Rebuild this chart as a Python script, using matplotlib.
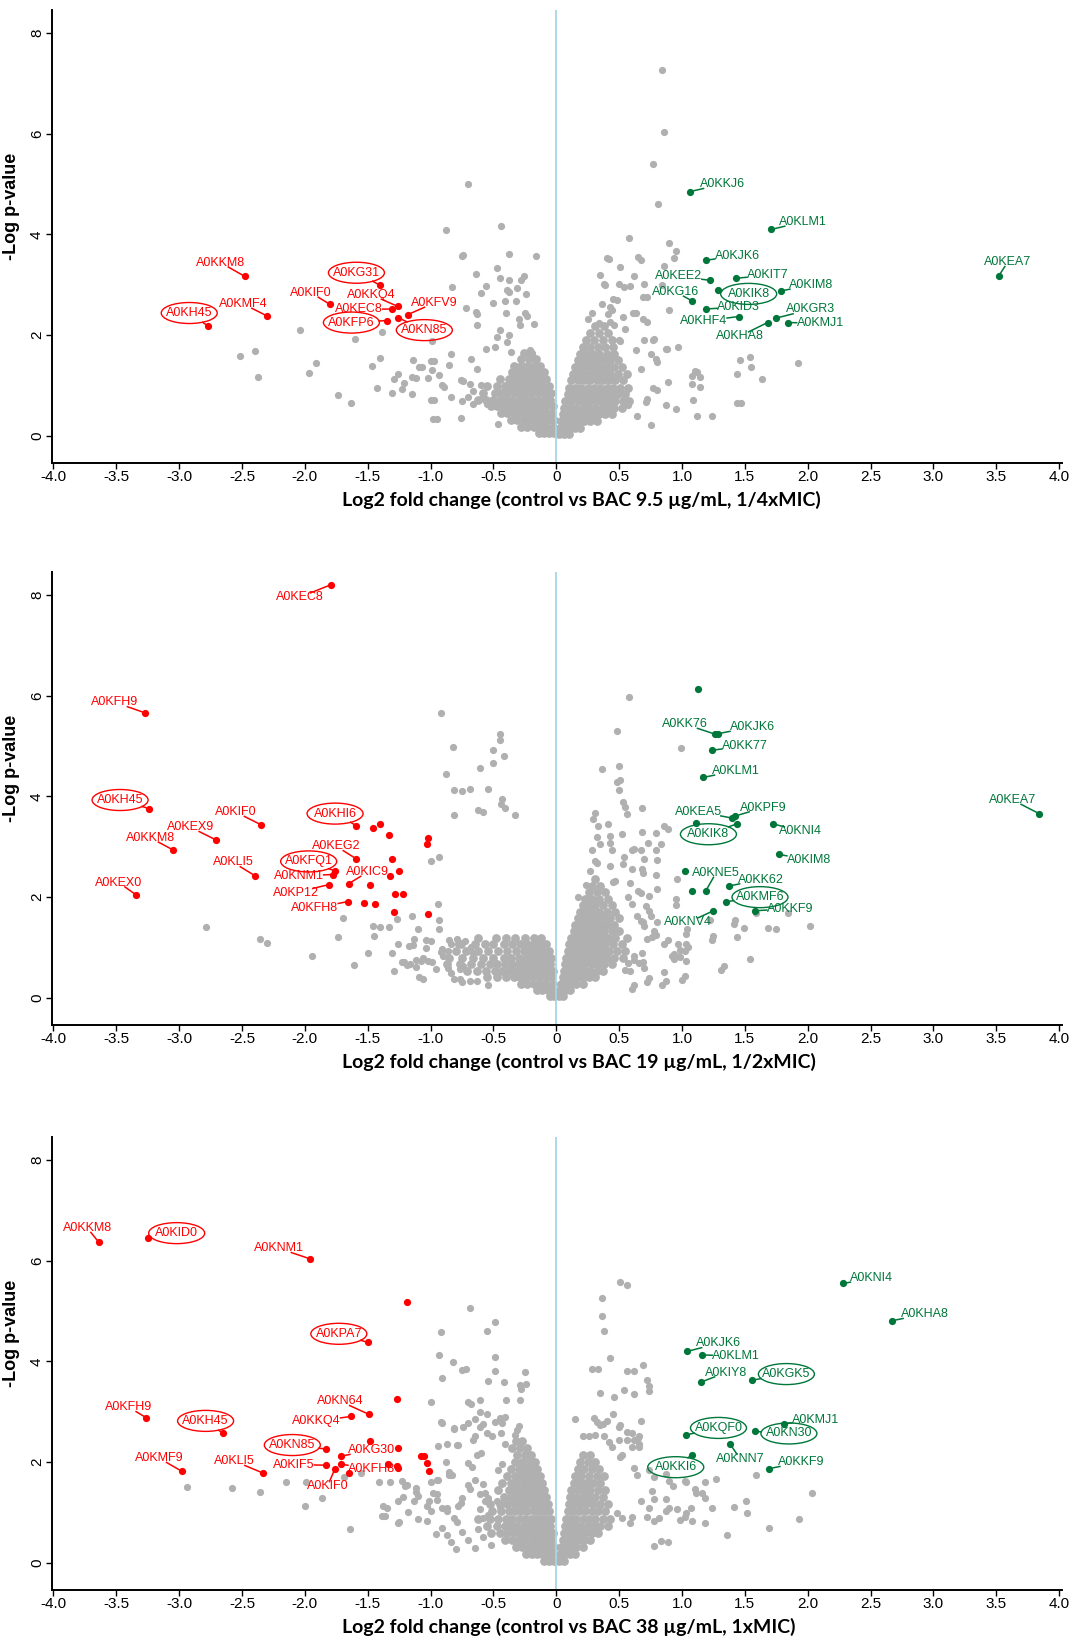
import numpy as np
import matplotlib
matplotlib.use("Agg")
import matplotlib.pyplot as plt
from matplotlib.patches import Ellipse

plt.rcParams["font.family"] = ["Liberation Sans", "DejaVu Sans"]

GRAY, RED, GREEN, ZERO = "#b0b0b0", "#ff0000", "#00773a", "#a6d6e6"
W, H = 1077, 1637

# ---------------- panel 1 : BAC 9.5 ug/mL ----------------
p1_title = "Log2 fold change (control vs BAC 9.5 \u00b5g/mL, 1/4xMIC)"
p1_gray = [
    (-2.52, 1.59), (-2.40, 1.68), (-2.37, 1.17), (-2.04, 2.11), (-1.97, 1.24), (-1.91, 1.44),
    (-1.74, 0.82), (-1.63, 0.65), (-1.60, 1.92), (-1.47, 1.39), (-1.43, 0.96), (-1.40, 1.55),
    (-1.39, 2.06), (-1.31, 0.85), (-1.29, 1.12), (-1.26, 1.22), (-1.23, 0.93), (-1.21, 1.05),
    (-1.15, 0.83), (-1.14, 1.50), (-1.09, 1.36), (-1.15, 1.17), (-1.12, 1.15), (-1.07, 1.37),
    (-1.02, 1.14), (-0.99, 1.89), (-1.00, 0.72), (-0.97, 0.72), (-0.98, 0.33), (-1.00, 1.48),
    (-0.97, 1.48), (-0.99, 1.31), (-0.93, 1.21), (-0.91, 1.00), (-0.89, 0.97), (-0.84, 0.77),
    (-0.84, 1.62), (-0.85, 1.40), (-0.83, 2.95), (-0.88, 4.09), (-0.70, 5.00), (-0.44, 4.17),
    (-0.75, 3.57), (-0.74, 3.59), (-0.38, 3.62), (-0.16, 3.58), (-0.47, 3.34), (-0.64, 3.22),
    (-0.45, 3.14), (-0.38, 3.10), (-0.26, 3.17), (-0.28, 3.09), (-0.56, 2.97), (-0.39, 2.89),
    (-0.38, 2.86), (-0.31, 2.94), (-0.60, 2.84), (-0.24, 2.81), (-0.50, 2.63), (-0.41, 2.68),
    (-0.32, 2.67), (-0.72, 2.53), (-0.64, 2.46), (-0.63, 2.43), (-0.40, 2.45), (-0.25, 2.44),
    (-0.23, 2.39), (-0.63, 2.20), (-0.45, 2.10), (-0.30, 2.33), (-0.29, 2.21), (-0.18, 2.23),
    (-0.47, 1.96), (-0.38, 2.00), (-0.56, 1.73), (-0.49, 1.76), (-0.39, 1.86), (-0.21, 1.70),
    (-0.19, 1.63), (-0.36, 1.67), (-0.68, 1.52), (-0.63, 1.33), (-0.76, 1.10), (-0.74, 1.08),
    (-0.75, 0.70), (-0.95, 0.33), (-0.76, 0.35), (-0.46, 0.24), (-0.69, 1.03), (-0.66, 0.90),
    (-0.60, 1.00), (-0.58, 0.80), (-0.55, 0.64), (-0.66, 0.64), (-0.70, 0.77),
    (0.84, 7.27), (0.86, 6.04), (0.77, 5.41), (0.81, 4.60), (0.58, 3.94), (0.90, 3.84),
    (0.95, 3.67), (0.94, 3.54), (0.40, 3.54), (0.42, 3.52), (0.65, 3.56), (0.67, 3.49),
    (0.51, 3.36), (0.86, 3.38), (0.35, 3.19), (0.62, 3.17), (0.38, 3.02), (0.39, 2.99),
    (0.50, 3.02), (0.54, 2.96), (0.59, 2.97), (0.70, 3.02), (0.69, 2.76), (0.72, 2.75),
    (0.84, 2.99), (0.45, 2.71), (0.48, 2.69), (0.61, 2.45), (0.63, 2.45), (0.43, 2.56),
    (0.34, 2.25), (0.43, 2.26), (0.46, 2.20), (0.55, 2.13), (0.69, 2.33), (0.72, 2.26),
    (0.50, 1.91), (0.51, 1.88), (0.70, 1.90), (0.77, 1.90), (0.87, 1.72), (0.63, 1.70),
    (0.75, 1.63), (0.79, 1.53), (0.80, 1.47), (0.67, 1.33), (0.89, 1.07), (0.77, 0.96),
    (0.80, 0.92), (0.72, 0.73), (0.71, 0.67), (0.87, 0.62), (0.95, 0.53), (0.56, 0.67),
    (0.57, 0.62), (0.64, 0.40), (0.75, 0.21), (1.08, 1.19), (1.12, 1.27), (1.14, 1.17),
    (1.08, 1.03), (1.14, 0.97), (1.09, 0.72), (1.12, 0.40), (1.24, 0.39), (1.46, 1.50),
    (1.54, 1.57), (1.55, 1.37), (1.64, 1.13), (1.44, 0.66), (1.47, 0.66), (1.92, 1.44),
    (1.44, 1.23), (1.10, 1.29), (0.97, 1.77), (0.88, 1.73), (0.90, 2.50), (0.78, 1.92),
    (0.36, 2.62), (0.28, 2.45), (0.25, 2.32), (0.44, 2.49), (0.41, 2.42), (0.53, 2.37),
]
p1_core_left = [
    (0.05, [-0.02, -0.06, -0.10, -0.14]),
    (0.18, [-0.03, -0.08, -0.13, -0.18, -0.23, -0.28]),
    (0.32, [-0.02, -0.07, -0.11, -0.16, -0.21, -0.26, -0.31, -0.36]),
    (0.45, [-0.04, -0.09, -0.14, -0.19, -0.24, -0.29, -0.34, -0.39, -0.44]),
    (0.59, [-0.03, -0.08, -0.12, -0.17, -0.22, -0.27, -0.32, -0.37, -0.42, -0.47, -0.52]),
    (0.72, [-0.05, -0.10, -0.15, -0.20, -0.25, -0.30, -0.35, -0.40, -0.45, -0.50, -0.56, -0.62]),
    (0.86, [-0.04, -0.09, -0.14, -0.19, -0.24, -0.29, -0.34, -0.39, -0.44, -0.49, -0.58]),
    (0.99, [-0.06, -0.11, -0.16, -0.21, -0.26, -0.31, -0.36, -0.41, -0.47, -0.55]),
    (1.12, [-0.08, -0.13, -0.18, -0.23, -0.28, -0.33, -0.38, -0.45]),
    (1.26, [-0.10, -0.15, -0.20, -0.25, -0.30, -0.35]),
    (1.39, [-0.13, -0.18, -0.23, -0.28, -0.34]),
    (1.52, [-0.16, -0.22, -0.28]),
    (1.65, [-0.20, -0.26]),
]
p1_core_right = [
    (0.03, [0.02, 0.06, 0.10]),
    (0.16, [0.03, 0.07, 0.11, 0.15, 0.19]),
    (0.30, [0.04, 0.08, 0.12, 0.17, 0.22, 0.27, 0.32]),
    (0.43, [0.05, 0.09, 0.14, 0.19, 0.24, 0.29, 0.34, 0.39, 0.44]),
    (0.56, [0.06, 0.11, 0.16, 0.21, 0.26, 0.31, 0.36, 0.41, 0.46, 0.52]),
    (0.70, [0.07, 0.12, 0.17, 0.22, 0.27, 0.32, 0.37, 0.42, 0.47, 0.53, 0.58]),
    (0.83, [0.09, 0.14, 0.19, 0.24, 0.29, 0.34, 0.39, 0.44, 0.49, 0.55]),
    (0.96, [0.10, 0.15, 0.20, 0.25, 0.30, 0.35, 0.40, 0.45, 0.51, 0.57]),
    (1.10, [0.12, 0.17, 0.22, 0.27, 0.32, 0.37, 0.42, 0.47, 0.53]),
    (1.23, [0.13, 0.18, 0.23, 0.28, 0.33, 0.38, 0.43, 0.49, 0.56]),
    (1.36, [0.15, 0.20, 0.25, 0.30, 0.35, 0.40, 0.46, 0.52]),
    (1.50, [0.17, 0.22, 0.27, 0.32, 0.37, 0.43, 0.49]),
    (1.63, [0.19, 0.24, 0.29, 0.34, 0.40, 0.46]),
    (1.77, [0.21, 0.27, 0.33, 0.39, 0.45]),
    (1.90, [0.24, 0.30, 0.37, 0.44]),
    (2.04, [0.27, 0.34, 0.41]),
    (2.18, [0.31, 0.38]),
]
p1_red = [("A0KKM8", -2.48, 3.17), ("A0KMF4", -2.30, 2.38), ("A0KH45", -2.77, 2.18),
          ("A0KIF0", -1.80, 2.61), ("A0KG31", -1.40, 2.99), ("A0KKQ4", -1.26, 2.57),
          ("A0KEC8", -1.31, 2.52), ("A0KFP6", -1.35, 2.29), ("A0KFV9", -1.18, 2.41),
          ("A0KN85", -1.26, 2.35)]
p1_red_other = []
p1_green = [("A0KKJ6", 1.06, 4.85), ("A0KLM1", 1.71, 4.10), ("A0KJK6", 1.19, 3.49),
            ("A0KEE2", 1.22, 3.09), ("A0KIT7", 1.43, 3.13), ("A0KIM8", 1.79, 2.88),
            ("A0KIK8", 1.29, 2.89), ("A0KG16", 1.08, 2.68), ("A0KID3", 1.19, 2.52),
            ("A0KHF4", 1.45, 2.37), ("A0KGR3", 1.75, 2.34), ("A0KMJ1", 1.84, 2.25),
            ("A0KHA8", 1.68, 2.25), ("A0KEA7", 3.52, 3.18)]
p1_green_other = []
# label placement: (x, y, circled)
p1_red_lab = [(-2.67, 3.44, 0), (-2.49, 2.62, 0), (-2.92, 2.44, 1), (-1.95, 2.84, 0),
              (-1.59, 3.24, 1), (-1.47, 2.80, 0), (-1.57, 2.51, 0), (-1.63, 2.25, 1),
              (-0.97, 2.64, 0), (-1.05, 2.10, 1)]
p1_green_lab = [(1.32, 5.00, 0), (1.96, 4.25, 0), (1.44, 3.57, 0), (0.97, 3.17, 0),
                (1.68, 3.19, 0), (2.03, 3.00, 0), (1.53, 2.82, 1), (0.95, 2.86, 0),
                (1.45, 2.56, 0), (1.17, 2.28, 0), (2.02, 2.51, 0), (2.10, 2.24, 0),
                (1.46, 1.98, 0), (3.59, 3.45, 0)]

# ---------------- panel 2 : BAC 19 ug/mL ----------------
p2_title = "Log2 fold change (control vs BAC 19 \u00b5g/mL, 1/2xMIC)"
p2_gray = [
    (-2.79, 1.41), (-2.36, 1.17), (-2.30, 1.08), (-1.94, 0.83), (-1.74, 1.20), (-1.70, 1.59),
    (-1.61, 0.65), (-1.50, 0.90), (-1.46, 1.43), (-1.45, 1.23), (-1.40, 1.40), (-1.33, 1.40),
    (-1.31, 0.90), (-1.29, 0.54), (-1.27, 1.57), (-1.26, 1.06), (-1.23, 0.72), (-1.19, 0.65),
    (-1.17, 1.03), (-1.15, 1.62), (-1.13, 1.16), (-1.12, 0.75), (-1.12, 0.62), (-1.10, 1.37),
    (-1.09, 0.42), (-1.06, 0.79), (-1.04, 0.99), (-1.04, 1.14), (-1.00, 2.71), (-0.93, 2.80),
    (-0.99, 0.71), (-0.96, 0.57), (-0.94, 1.87), (-0.93, 1.55), (-0.93, 1.37), (-0.91, 0.97),
    (-0.90, 0.83), (-0.85, 1.14), (-0.84, 1.07), (-0.78, 1.07), (-0.86, 0.60), (-0.84, 0.50),
    (-0.81, 0.37), (-0.77, 0.57), (-0.74, 0.63), (-0.69, 0.34), (-0.68, 1.00), (-0.66, 0.90),
    (-1.14, 1.04), (-1.00, 1.12), (-0.79, 1.17), (-0.73, 1.12), (-0.92, 0.91), (-0.86, 0.94),
    (-1.21, 0.72), (-1.16, 0.68), (-1.08, 0.74), (-1.02, 0.74), (-1.06, 0.38), (-0.77, 0.38),
    (-0.75, 0.32), (-0.63, 0.33), (-0.54, 0.26),
    (-0.92, 5.66), (-0.45, 5.24), (-0.45, 5.13), (-0.82, 4.99), (-0.50, 4.92), (-0.42, 4.81),
    (-0.61, 4.57), (-0.50, 4.66), (-0.88, 4.45), (-0.81, 4.13), (-0.75, 4.10), (-0.69, 4.15),
    (-0.54, 4.15), (-0.43, 3.95), (-0.44, 3.85), (-0.41, 3.77), (-0.81, 3.64), (-0.62, 3.73),
    (-0.58, 3.69), (-0.33, 3.64),
    (0.58, 5.97), (0.48, 5.30), (0.99, 4.97), (0.36, 4.55), (0.50, 4.60), (0.48, 4.29),
    (0.51, 4.33), (0.50, 4.12), (0.53, 3.90), (0.55, 3.79), (0.56, 3.65), (0.68, 3.77),
    (0.31, 3.68), (0.29, 3.56), (0.41, 3.45), (0.33, 3.41), (0.52, 3.25), (0.43, 3.22),
    (0.68, 3.30), (0.79, 3.28), (0.86, 3.42), (0.89, 3.35), (0.32, 3.19), (0.35, 3.05),
    (0.43, 3.07), (0.73, 3.07), (0.79, 2.94), (0.83, 3.05), (0.28, 2.93), (0.44, 2.94),
    (0.60, 2.94), (0.62, 2.96), (0.67, 2.94), (0.70, 2.76), (0.80, 2.73), (0.27, 2.52),
    (0.31, 2.72), (0.32, 2.67), (0.43, 2.61), (0.54, 2.79), (0.53, 2.66), (0.60, 2.56),
    (0.68, 2.56), (0.69, 2.47), (0.79, 2.44), (0.96, 2.36), (0.45, 2.31), (0.47, 2.32),
    (0.59, 2.28), (0.65, 2.13), (0.67, 2.09), (0.80, 2.16), (0.95, 1.96), (0.95, 1.84),
    (0.57, 2.00), (0.74, 1.73), (0.75, 1.63), (0.69, 1.51), (0.80, 1.51), (1.22, 1.54),
    (1.04, 1.36), (1.25, 1.23), (1.42, 1.54), (1.49, 1.38), (1.44, 1.20), (1.68, 1.38),
    (1.75, 1.36), (1.59, 1.68), (1.84, 1.68), (2.02, 1.43), (1.54, 0.78), (1.33, 0.63),
    (1.02, 0.43), (0.86, 0.52), (0.87, 0.34), (0.74, 0.39), (0.62, 0.25), (0.76, 1.21),
    (0.79, 1.25), (0.86, 1.07), (0.89, 1.14), (0.97, 1.07), (0.98, 0.95), (1.03, 1.07),
    (1.05, 1.00), (0.92, 0.84), (0.95, 0.84), (0.68, 0.89), (0.69, 0.71), (0.62, 0.84),
    (0.57, 0.70), (0.59, 0.53), (0.55, 0.56), (0.74, 2.03), (0.60, 1.86), (0.71, 1.83),
    (0.64, 1.63), (0.67, 1.53), (0.70, 1.42), (0.78, 1.33), (0.17, 2.00), (0.24, 2.24),
    (0.72, 1.17), (0.94, 0.88), (0.98, 0.81), (1.02, 0.94), (1.03, 0.74), (0.94, 0.77),
    (0.62, 0.75), (0.66, 0.69), (0.70, 0.59), (0.60, 0.17), (0.72, 0.32), (0.84, 0.26),
    (1.00, 0.36), (1.31, 0.56), (1.03, 1.27), (1.24, 1.14), (1.41, 1.46),
]
p2_core_left = [
    (0.04, [-0.02, -0.05]),
    (0.15, [-0.03, -0.07, -0.11, -0.15]),
    (0.28, [-0.03, -0.08, -0.13, -0.18, -0.23, -0.28]),
    (0.41, [-0.04, -0.09, -0.14, -0.19, -0.24, -0.29, -0.34, -0.40, -0.47, -0.55]),
    (0.54, [-0.03, -0.08, -0.13, -0.18, -0.23, -0.28, -0.33, -0.38, -0.43, -0.49, -0.56, -0.63, -0.71]),
    (0.67, [-0.05, -0.10, -0.15, -0.20, -0.25, -0.30, -0.35, -0.41, -0.47, -0.53, -0.60, -0.68, -0.77, -0.87]),
    (0.80, [-0.04, -0.09, -0.14, -0.19, -0.24, -0.30, -0.36, -0.42, -0.50, -0.58, -0.66, -0.75, -0.85]),
    (0.93, [-0.06, -0.11, -0.16, -0.21, -0.26, -0.32, -0.39, -0.46, -0.54, -0.62, -0.72, -0.80]),
    (1.06, [-0.08, -0.13, -0.18, -0.23, -0.29, -0.35, -0.42, -0.50, -0.57, -0.65, -0.76]),
    (1.18, [-0.12, -0.18, -0.25, -0.33, -0.40, -0.48, -0.62]),
]
p2_core_right = [
    (0.04, [0.02, 0.05]),
    (0.15, [0.03, 0.07, 0.11]),
    (0.28, [0.04, 0.08, 0.12, 0.16, 0.21]),
    (0.41, [0.05, 0.09, 0.13, 0.17, 0.21, 0.26, 0.31]),
    (0.54, [0.06, 0.10, 0.14, 0.18, 0.22, 0.27, 0.32, 0.37]),
    (0.67, [0.07, 0.11, 0.15, 0.19, 0.23, 0.28, 0.33, 0.38, 0.44]),
    (0.80, [0.08, 0.12, 0.16, 0.20, 0.25, 0.30, 0.35, 0.40, 0.46, 0.53]),
    (0.93, [0.09, 0.13, 0.17, 0.22, 0.27, 0.32, 0.37, 0.42, 0.48, 0.55]),
    (1.06, [0.10, 0.14, 0.19, 0.24, 0.29, 0.34, 0.39, 0.45, 0.52]),
    (1.19, [0.12, 0.16, 0.21, 0.26, 0.31, 0.36, 0.41, 0.47, 0.56]),
    (1.32, [0.14, 0.18, 0.23, 0.28, 0.33, 0.38, 0.44, 0.50]),
    (1.45, [0.15, 0.20, 0.25, 0.30, 0.35, 0.40, 0.46]),
    (1.58, [0.17, 0.22, 0.27, 0.32, 0.37, 0.43, 0.50]),
    (1.71, [0.19, 0.24, 0.29, 0.34, 0.40, 0.47]),
    (1.84, [0.21, 0.26, 0.31, 0.37, 0.44]),
    (1.97, [0.23, 0.28, 0.34, 0.41]),
    (2.10, [0.26, 0.32, 0.39]),
    (2.23, [0.28, 0.35]),
    (2.36, [0.31]),
]
p2_red = [("A0KEC8", -1.79, 8.21), ("A0KFH9", -3.27, 5.66), ("A0KH45", -3.24, 3.76),
          ("A0KIF0", -2.35, 3.44), ("A0KHI6", -1.59, 3.42), ("A0KEX9", -2.71, 3.14),
          ("A0KKM8", -3.05, 2.94), ("A0KEG2", -1.59, 2.76), ("A0KFQ1", -1.76, 2.52),
          ("A0KNM1", -1.78, 2.45), ("A0KLI5", -2.40, 2.43), ("A0KIC9", -1.65, 2.27),
          ("A0KP12", -1.81, 2.25), ("A0KFH8", -1.66, 1.91), ("A0KEX0", -3.34, 2.04)]
p2_red_other = [(-1.46, 3.37), (-1.40, 3.45), (-1.33, 3.23), (-1.02, 3.18), (-1.03, 3.05),
                (-1.31, 2.76), (-1.25, 2.52), (-1.32, 2.43), (-1.48, 2.24), (-1.28, 2.06),
                (-1.22, 2.06), (-1.53, 1.88), (-1.44, 1.86), (-1.29, 1.71), (-1.02, 1.66)]
p2_green = [("A0KK76", 1.26, 5.24), ("A0KJK6", 1.29, 5.25), ("A0KK77", 1.24, 4.92),
            ("A0KLM1", 1.17, 4.38), ("A0KEA5", 1.40, 3.57), ("A0KPF9", 1.42, 3.61),
            ("A0KIK8", 1.44, 3.46), ("A0KNI4", 1.72, 3.46), ("A0KIM8", 1.77, 2.85),
            ("A0KEA7", 3.84, 3.66), ("A0KNE5", 1.19, 2.13), ("A0KK62", 1.37, 2.22),
            ("A0KMF6", 1.35, 1.91), ("A0KKF9", 1.58, 1.73), ("A0KNV4", 1.25, 1.73)]
p2_green_other = [(1.13, 6.14), (1.11, 3.48), (1.02, 2.52), (1.08, 2.13)]
p2_red_lab = [(-2.04, 7.96, 0), (-3.51, 5.87, 0), (-3.47, 3.93, 1), (-2.55, 3.69, 0),
              (-1.76, 3.66, 1), (-2.91, 3.39, 0), (-3.23, 3.18, 0), (-1.75, 3.01, 0),
              (-1.97, 2.71, 1), (-2.05, 2.42, 0), (-2.57, 2.69, 0), (-1.50, 2.50, 0),
              (-2.07, 2.09, 0), (-1.92, 1.79, 0), (-3.48, 2.29, 0)]
p2_green_lab = [(1.02, 5.44, 0), (1.56, 5.38, 0), (1.50, 5.00, 0), (1.43, 4.51, 0),
                (1.13, 3.70, 0), (1.65, 3.78, 0), (1.21, 3.25, 1), (1.94, 3.31, 0),
                (2.01, 2.74, 0), (3.63, 3.93, 0), (1.27, 2.48, 0), (1.63, 2.35, 0),
                (1.62, 2.00, 1), (1.86, 1.77, 0), (1.05, 1.50, 0)]

# ---------------- panel 3 : BAC 38 ug/mL ----------------
p3_title = "Log2 fold change (control vs BAC 38 \u00b5g/mL, 1xMIC)"
p3_gray = [
    (-2.94, 1.51), (-2.58, 1.48), (-2.36, 1.40), (-2.15, 1.61), (-1.99, 1.61), (-2.00, 1.12),
    (-1.86, 1.28), (-1.64, 0.67), (-1.69, 1.70), (-1.55, 1.78), (-1.41, 1.60), (-1.32, 1.60),
    (-1.23, 1.62), (-1.38, 1.12), (-1.36, 0.94), (-1.39, 0.94), (-1.35, 1.09), (-1.26, 1.23),
    (-1.22, 1.30), (-1.25, 0.82), (-1.26, 0.79), (-1.19, 1.55), (-1.12, 1.48), (-1.10, 1.33),
    (-1.13, 1.22), (-1.18, 1.00), (-1.10, 0.88), (-1.01, 1.23), (-1.03, 0.84), (-0.96, 0.58),
    (-1.00, 1.61), (-0.95, 1.65), (-0.95, 1.36), (-0.91, 0.69), (-0.87, 0.56), (-0.84, 0.41),
    (-0.80, 0.27), (-0.91, 1.09), (-0.87, 1.09), (-0.78, 1.12), (-0.88, 2.00), (-0.85, 1.74),
    (-1.00, 3.20), (-0.94, 2.33), (-0.92, 2.79), (-0.87, 2.36), (-0.81, 2.66), (-0.79, 2.35),
    (-0.93, 4.12), (-0.91, 3.68), (-0.92, 4.58), (-0.82, 3.99), (-0.75, 3.84), (-0.72, 3.86),
    (-0.69, 5.06), (-0.49, 4.78), (-0.55, 4.60), (-0.49, 4.08), (-0.49, 3.81), (-0.54, 3.61),
    (-0.42, 3.59), (-0.40, 3.23), (-0.25, 3.79), (-0.29, 3.53), (-0.29, 3.24), (-0.24, 3.56),
    (-0.28, 3.46), (-0.70, 3.20), (-0.68, 3.16), (-0.61, 3.23), (-0.55, 2.96), (-0.61, 3.00),
    (-0.45, 2.87), (-0.41, 2.89), (-0.91, 2.77), (-0.81, 2.67), (-0.74, 2.69), (-0.70, 2.78),
    (-0.65, 2.85), (-0.61, 2.70), (-0.58, 2.75), (-0.49, 2.80), (-0.43, 2.77), (-0.30, 2.72),
    (-0.31, 2.64), (-0.65, 2.51), (-0.66, 2.45), (-0.78, 2.34), (-0.55, 2.57), (-0.51, 2.51),
    (-0.44, 2.57), (-0.41, 2.37), (-0.33, 2.54), (-0.60, 2.18), (-0.63, 2.14), (-0.70, 1.98),
    (-0.67, 1.91), (-0.85, 1.81), (-0.83, 1.75), (-0.94, 1.64), (-0.46, 1.84), (-0.43, 1.97),
    (-0.65, 1.64), (-0.58, 1.57), (-0.57, 1.39), (-0.70, 1.54), (-0.69, 1.47), (-0.75, 1.28),
    (-0.76, 1.18), (-0.87, 1.02), (-0.81, 0.89), (-0.79, 0.82), (-0.98, 1.38), (-0.95, 1.25),
    (-1.03, 1.12), (-1.00, 1.02), (-1.20, 1.53), (-1.12, 1.40), (-0.61, 1.36), (-0.57, 1.23),
    (-0.54, 1.29), (-0.61, 1.06), (-0.58, 0.89), (-0.54, 0.96), (-0.47, 1.23), (-0.45, 1.10),
    (-0.70, 0.45), (-0.65, 0.30), (-0.58, 0.52), (-0.52, 0.35), (-0.75, 0.62), (-0.62, 0.68),
    (0.51, 5.58), (0.56, 5.52), (0.36, 5.26), (0.36, 4.90), (0.38, 4.60), (0.43, 4.07),
    (0.28, 3.86), (0.33, 3.86), (0.56, 3.82), (0.62, 3.81), (0.69, 3.93), (0.72, 3.63),
    (0.74, 3.52), (0.74, 3.42), (0.54, 3.43), (0.62, 3.36), (0.35, 3.38), (0.46, 3.30),
    (0.15, 2.85), (0.30, 2.87), (0.32, 2.80), (0.35, 2.74), (0.45, 2.96), (0.50, 2.70),
    (0.51, 2.74), (0.67, 2.82), (0.60, 2.58), (0.65, 2.47), (0.66, 2.37), (0.66, 2.31),
    (0.21, 2.51), (0.26, 2.52), (0.31, 2.54), (0.38, 2.51), (0.42, 2.41), (0.44, 2.31),
    (0.50, 2.44), (0.56, 2.44), (0.60, 2.31), (0.51, 2.11), (0.52, 2.14), (0.62, 1.88),
    (0.64, 1.75), (0.74, 1.85), (0.78, 1.71), (0.76, 1.42), (0.78, 1.26), (0.87, 1.27),
    (0.93, 1.52), (1.03, 1.60), (1.10, 1.47), (1.11, 1.39), (1.16, 1.39), (1.18, 1.29),
    (1.18, 1.60), (1.24, 1.09), (1.27, 1.67), (1.41, 1.11), (1.18, 0.79), (1.08, 0.83),
    (1.02, 0.92), (0.96, 1.07), (0.87, 1.02), (0.90, 1.09), (0.82, 0.89), (0.78, 0.83),
    (0.72, 0.92), (0.60, 0.92), (0.59, 0.79), (0.48, 0.99), (0.52, 0.89), (2.03, 1.38),
    (1.93, 0.88), (1.69, 0.70), (1.51, 1.22), (1.52, 0.98), (1.36, 0.56), (1.59, 1.75),
    (1.07, 1.09), (1.03, 0.98), (0.98, 0.85), (0.87, 1.77), (0.90, 1.62), (1.02, 1.62),
    (0.67, 1.23), (0.74, 1.08), (0.78, 0.34), (0.83, 0.43), (0.89, 0.41), (0.56, 2.60),
    (0.62, 2.45), (0.66, 2.52), (0.40, 2.82), (0.37, 2.75),
]
p3_core_left = [
    (0.04, [-0.02, -0.06, -0.10]),
    (0.18, [-0.03, -0.07, -0.11, -0.15, -0.19, -0.24]),
    (0.32, [-0.02, -0.06, -0.10, -0.14, -0.18, -0.22, -0.27, -0.32]),
    (0.46, [-0.04, -0.08, -0.12, -0.16, -0.20, -0.25, -0.30, -0.35, -0.41]),
    (0.60, [-0.03, -0.07, -0.11, -0.15, -0.19, -0.24, -0.29, -0.34, -0.39, -0.45, -0.52]),
    (0.74, [-0.05, -0.09, -0.13, -0.17, -0.21, -0.26, -0.31, -0.36, -0.41, -0.47, -0.55]),
    (0.88, [-0.04, -0.08, -0.12, -0.16, -0.20, -0.25, -0.30, -0.35, -0.40, -0.46, -0.53, -0.62]),
    (1.02, [-0.06, -0.10, -0.14, -0.18, -0.23, -0.28, -0.33, -0.38, -0.44, -0.51]),
    (1.16, [-0.07, -0.11, -0.15, -0.19, -0.24, -0.29, -0.34, -0.39, -0.45, -0.53]),
    (1.30, [-0.08, -0.12, -0.16, -0.21, -0.26, -0.31, -0.36, -0.42]),
    (1.44, [-0.10, -0.14, -0.18, -0.23, -0.28, -0.33, -0.38, -0.46]),
    (1.58, [-0.11, -0.16, -0.21, -0.26, -0.31, -0.36, -0.43]),
    (1.72, [-0.13, -0.18, -0.23, -0.28, -0.33, -0.39]),
    (1.86, [-0.15, -0.20, -0.25, -0.30, -0.36]),
    (2.00, [-0.17, -0.22, -0.27, -0.33]),
    (2.14, [-0.20, -0.25, -0.31]),
    (2.28, [-0.23, -0.29, -0.35]),
    (2.42, [-0.27, -0.32]),
]
p3_core_right = [
    (0.04, [0.02, 0.06]),
    (0.18, [0.03, 0.07, 0.11, 0.15]),
    (0.32, [0.04, 0.08, 0.12, 0.16, 0.21]),
    (0.46, [0.05, 0.09, 0.13, 0.17, 0.22, 0.27]),
    (0.60, [0.06, 0.10, 0.14, 0.18, 0.23, 0.28, 0.33]),
    (0.74, [0.07, 0.11, 0.15, 0.20, 0.25, 0.30, 0.35, 0.41]),
    (0.88, [0.08, 0.12, 0.16, 0.21, 0.26, 0.31, 0.37, 0.43]),
    (1.02, [0.09, 0.13, 0.18, 0.23, 0.28, 0.33, 0.39]),
    (1.16, [0.10, 0.14, 0.19, 0.24, 0.29, 0.35, 0.41]),
    (1.30, [0.11, 0.16, 0.21, 0.26, 0.31, 0.37]),
    (1.44, [0.12, 0.17, 0.22, 0.27, 0.33, 0.39]),
    (1.58, [0.14, 0.19, 0.24, 0.29, 0.35]),
    (1.72, [0.15, 0.20, 0.26, 0.32, 0.38]),
    (1.86, [0.17, 0.22, 0.28, 0.34]),
    (2.00, [0.19, 0.25, 0.31]),
    (2.14, [0.21, 0.27]),
]
p3_red = [("A0KKM8", -3.64, 6.37), ("A0KID0", -3.25, 6.46), ("A0KNM1", -1.96, 6.04),
          ("A0KPA7", -1.50, 4.38), ("A0KN64", -1.49, 2.95), ("A0KKQ4", -1.63, 2.91),
          ("A0KFH9", -3.26, 2.88), ("A0KH45", -2.65, 2.57), ("A0KN85", -1.83, 2.26),
          ("A0KG30", -1.71, 2.12), ("A0KMF9", -2.98, 1.82), ("A0KLI5", -2.33, 1.78),
          ("A0KIF5", -1.83, 1.94), ("A0KFH8", -1.71, 1.96), ("A0KIF0", -1.76, 1.87)]
p3_red_other = [(-1.19, 5.19), (-1.27, 3.25), (-1.48, 2.42), (-1.26, 2.28), (-1.08, 2.12),
                (-1.05, 2.12), (-1.03, 1.98), (-1.01, 1.82), (-1.65, 1.78), (-1.34, 1.96),
                (-1.27, 1.93), (-1.26, 1.88)]
p3_green = [("A0KNI4", 2.28, 5.55), ("A0KHA8", 2.67, 4.81), ("A0KJK6", 1.04, 4.20),
            ("A0KLM1", 1.16, 4.13), ("A0KIY8", 1.15, 3.59), ("A0KGK5", 1.56, 3.63),
            ("A0KMJ1", 1.81, 2.76), ("A0KQF0", 1.03, 2.54), ("A0KN30", 1.58, 2.61),
            ("A0KNN7", 1.38, 2.37), ("A0KKI6", 1.08, 2.15), ("A0KKF9", 1.69, 1.87)]
p3_green_other = []
p3_red_lab = [(-3.73, 6.65, 0), (-3.02, 6.55, 1), (-2.21, 6.25, 0), (-1.73, 4.55, 1),
              (-1.72, 3.21, 0), (-1.91, 2.81, 0), (-3.40, 3.09, 0), (-2.79, 2.82, 1),
              (-2.10, 2.34, 1), (-1.47, 2.24, 0), (-3.16, 2.08, 0), (-2.56, 2.02, 0),
              (-2.09, 1.95, 0), (-1.47, 1.86, 0), (-1.82, 1.53, 0)]
p3_green_lab = [(2.51, 5.65, 0), (2.93, 4.94, 0), (1.29, 4.36, 0), (1.43, 4.11, 0),
                (1.35, 3.78, 0), (1.83, 3.75, 1), (2.06, 2.84, 0), (1.29, 2.68, 1),
                (1.85, 2.57, 1), (1.46, 2.07, 0), (0.95, 1.90, 1), (1.95, 2.00, 0)]

xtick_vals = [-4.0, -3.5, -3.0, -2.5, -2.0, -1.5, -1.0, -0.5, 0, 0.5, 1.0, 1.5, 2.0, 2.5, 3.0, 3.5, 4.0]
xtick_text = ["-4.0", "-3.5", "-3.0", "-2.5", "-2.0", "-1.5", "-1.0", "-0.5", "0",
              "0.5", "1.0", "1.5", "2.0", "2.5", "3.0", "3.5", "4.0"]
ytick_vals = [0, 2, 4, 6, 8]

panels = [
    (p1_title, p1_gray, p1_core_left + p1_core_right, p1_red, p1_red_lab, p1_red_other,
     p1_green, p1_green_lab, p1_green_other),
    (p2_title, p2_gray, p2_core_left + p2_core_right, p2_red, p2_red_lab, p2_red_other,
     p2_green, p2_green_lab, p2_green_other),
    (p3_title, p3_gray, p3_core_left + p3_core_right, p3_red, p3_red_lab, p3_red_other,
     p3_green, p3_green_lab, p3_green_other),
]
tops = [10, 572, 1137]          # px from top of figure
AX_L, AX_W, AX_H = 51.7, 1010.5, 452.5
ELL_W, ELL_H = 56, 21           # px

fig = plt.figure(figsize=(W / 100, H / 100), dpi=100)
renderer = fig.canvas.get_renderer()

for (title, gray, core, reds, red_lab, red_other, greens, green_lab, green_other), top in zip(panels, tops):
    ax = fig.add_axes([AX_L / W, 1 - (top + AX_H) / H, AX_W / W, AX_H / H])
    ax.set_xlim(-4.014, 4.024)
    ax.set_ylim(-0.53, 8.46)
    for s in ("top", "right"):
        ax.spines[s].set_visible(False)
    for s in ("left", "bottom"):
        ax.spines[s].set_linewidth(1.4)
    ax.set_xticks(xtick_vals)
    ax.set_xticklabels(xtick_text)
    ax.set_yticks(ytick_vals)
    ax.tick_params(direction="out", length=4, width=1.0, labelsize=11, pad=1.5)
    for lbl in ax.get_yticklabels():
        lbl.set_rotation(90)
        lbl.set_va("center")

    ax.axvline(0, color=ZERO, lw=1.3, zorder=2)

    # scattered proteins, then the dense cloud near the origin (slightly larger marks so it fills)
    ax.scatter([p[0] for p in gray], [p[1] for p in gray], s=27, color=GRAY, lw=0, zorder=1)
    cx, cy = [], []
    for y, row in core:
        cx += row
        cy += [y] * len(row)
    ax.scatter(cx, cy, s=40, color=GRAY, lw=0, zorder=1)

    for pts, col in ((red_other, RED), (green_other, GREEN)):
        if pts:
            ax.scatter([p[0] for p in pts], [p[1] for p in pts], s=27, color=col, lw=0, zorder=3)

    for named, labs, col in ((reds, red_lab, RED), (greens, green_lab, GREEN)):
        ax.scatter([p[1] for p in named], [p[2] for p in named], s=27, color=col, lw=0, zorder=3)
        for (name, x, y), (lx, ly, circ) in zip(named, labs):
            t = ax.text(lx, ly, name, color=col, fontsize=9, ha="center", va="center", zorder=4)
            c = ax.transData.transform((lx, ly))
            p = ax.transData.transform((x, y))
            d = p - c
            if circ:
                sx = ax.transData.transform((1, 0))[0] - ax.transData.transform((0, 0))[0]
                sy = ax.transData.transform((0, 1))[1] - ax.transData.transform((0, 0))[1]
                ax.add_patch(Ellipse((lx, ly), ELL_W / sx, ELL_H / sy, fill=False,
                                     ec=col, lw=1.0, zorder=4))
                k = np.sqrt((d[0] / (ELL_W / 2)) ** 2 + (d[1] / (ELL_H / 2)) ** 2)
                f = 1 / k if k > 0 else 1
            else:
                bb = t.get_window_extent(renderer)
                hw, hh = bb.width / 2, bb.height * 0.36
                f = min(hw / abs(d[0]) if d[0] else np.inf, hh / abs(d[1]) if d[1] else np.inf)
            if f < 1:
                start = ax.transData.inverted().transform(c + d * f)
                ax.plot([start[0], x], [start[1], y], color=col, lw=1.1, zorder=3)

    fig.text(12 / W, 1 - (top + 196) / H, "-Log p-value", rotation=90, fontsize=13,
             fontweight="bold", ha="center", va="center")
    fig.text(342 / W, 1 - (top + AX_H + 37) / H, title, family="Lato", fontsize=14,
             fontweight="bold", ha="left", va="center")

fig.savefig("out.png", dpi=100)
